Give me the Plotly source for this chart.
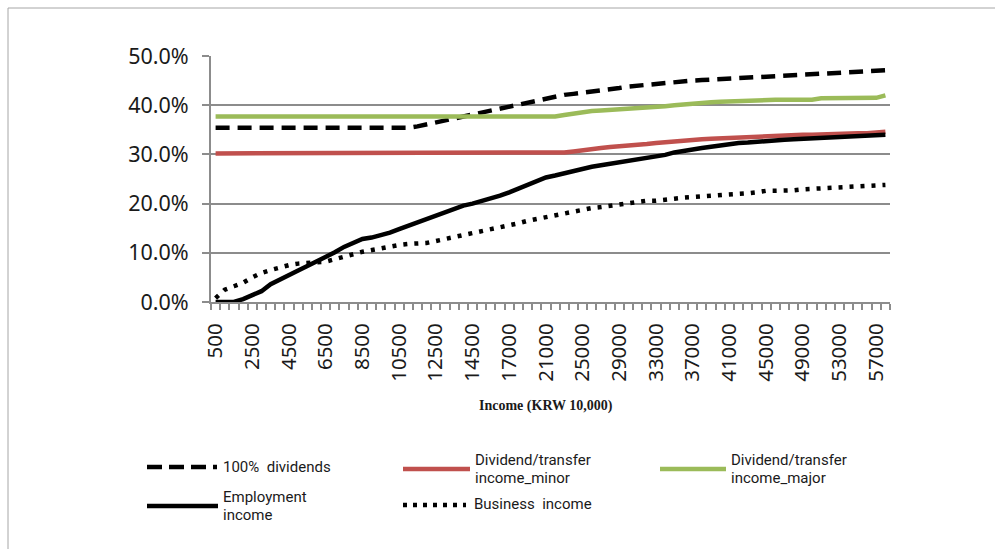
import plotly.graph_objects as go

# Income brackets (KRW 10,000)
categories = ([500 * k for k in range(1, 30)] + [15000, 15500, 16000]
              + [1000 * k for k in range(17, 59)])
tick_labels = [str(c) for c in categories]

# Effective tax rate by income type (%)
dividends_100 = [
    35.4, 35.4, 35.4, 35.4, 35.4, 35.4, 35.4, 35.4, 35.4, 35.4,
    35.4, 35.4, 35.4, 35.4, 35.4, 35.4, 35.4, 35.4, 35.4, 35.4,
    35.4, 35.4, 35.7, 36.1, 36.4, 36.8, 37.2, 37.6, 38.0, 38.5,
    38.9, 39.4, 39.8, 40.2, 40.6, 41.0, 41.4, 41.8, 42.1, 42.3,
    42.5, 42.7, 42.9, 43.2, 43.5, 43.8, 44.0, 44.2, 44.4, 44.5,
    44.7, 44.8, 45.0, 45.1, 45.2, 45.4, 45.5, 45.6, 45.7, 45.8,
    45.8, 46.0, 46.1, 46.3, 46.4, 46.5, 46.5, 46.6, 46.7, 46.8,
    46.9, 47.0, 47.1, 47.1,
]
transfer_minor = [
    30.2, 30.2, 30.2, 30.2, 30.2, 30.2, 30.2, 30.2, 30.2, 30.2,
    30.2, 30.2, 30.2, 30.2, 30.2, 30.2, 30.2, 30.2, 30.2, 30.2,
    30.2, 30.2, 30.2, 30.2, 30.2, 30.2, 30.2, 30.2, 30.2, 30.2,
    30.2, 30.2, 30.2, 30.2, 30.2, 30.2, 30.2, 30.2, 30.4, 30.6,
    30.9, 31.2, 31.3, 31.5, 31.6, 31.8, 31.9, 32.1, 32.3, 32.5,
    32.6, 32.8, 33.0, 33.1, 33.2, 33.3, 33.4, 33.4, 33.5, 33.6,
    33.6, 33.7, 33.8, 33.9, 34.0, 34.0, 34.1, 34.2, 34.2, 34.3,
    34.3, 34.3, 34.4, 34.6,
]
transfer_major = [
    37.7, 37.7, 37.7, 37.7, 37.7, 37.7, 37.7, 37.7, 37.7, 37.7,
    37.7, 37.7, 37.7, 37.7, 37.7, 37.7, 37.7, 37.7, 37.7, 37.7,
    37.7, 37.7, 37.7, 37.7, 37.7, 37.7, 37.7, 37.7, 37.7, 37.7,
    37.7, 37.7, 37.7, 37.7, 37.7, 37.7, 37.7, 37.7, 38.0, 38.3,
    38.5, 38.8, 38.9, 39.0, 39.1, 39.3, 39.4, 39.5, 39.6, 39.8,
    40.0, 40.2, 40.3, 40.5, 40.6, 40.7, 40.8, 40.9, 41.0, 41.0,
    41.1, 41.1, 41.1, 41.1, 41.1, 41.1, 41.4, 41.4, 41.4, 41.4,
    41.4, 41.4, 41.5, 42.0,
]
employment = [
    0.0, 0.0, 0.0, 0.6, 1.4, 2.2, 3.6, 4.6, 5.5, 6.4,
    7.3, 8.2, 9.2, 10.1, 11.2, 12.1, 12.8, 13.1, 13.5, 14.1,
    14.8, 15.5, 16.2, 16.9, 17.6, 18.4, 19.1, 19.6, 20.0, 20.5,
    21.1, 21.6, 22.3, 23.0, 23.8, 24.6, 25.3, 25.7, 26.2, 26.7,
    27.1, 27.5, 27.8, 28.1, 28.3, 28.5, 28.9, 29.2, 29.5, 29.9,
    30.4, 30.8, 31.0, 31.3, 31.6, 31.8, 32.0, 32.3, 32.4, 32.6,
    32.8, 32.9, 33.0, 33.1, 33.2, 33.3, 33.3, 33.4, 33.5, 33.5,
    33.7, 33.8, 33.9, 34.0,
]
business = [
    0.8, 2.5, 3.2, 3.9, 5.0, 5.9, 6.5, 7.1, 7.5, 7.8,
    7.9, 8.0, 8.2, 8.7, 9.3, 9.7, 10.2, 10.6, 11.0, 11.3,
    11.6, 11.8, 11.9, 12.0, 12.4, 12.8, 13.1, 13.5, 13.9, 14.2,
    14.6, 15.0, 15.5, 16.0, 16.5, 16.9, 17.3, 17.6, 18.0, 18.4,
    18.8, 19.1, 19.3, 19.6, 19.8, 20.1, 20.3, 20.6, 20.6, 20.7,
    21.0, 21.2, 21.3, 21.4, 21.5, 21.7, 21.8, 22.0, 22.1, 22.3,
    22.6, 22.6, 22.6, 22.7, 22.9, 23.0, 23.0, 23.2, 23.3, 23.3,
    23.5, 23.6, 23.7, 23.8,
]

RED = "#C0504D"
GREEN = "#9BBB59"
GRID = "#8c8c8c"

xpos = list(range(len(categories)))
label_idx = xpos[::4]

# name, values, colour, plot dash, legend dash, width
series = [
    ("100% dividends", dividends_100, "black", "14px,8px", "15px,7px", 4.5),
    ("Dividend/transfer income_minor", transfer_minor, RED, "solid", "solid", 4.5),
    ("Dividend/transfer income_major", transfer_major, GREEN, "solid", "solid", 4.5),
    ("Employment income", employment, "black", "solid", "solid", 4.5),
    ("Business income", business, "black", "4px,7px", "4px,6px", 4.5),
]

fig = go.Figure()
for name, vals, color, dash, _, w in series:
    fig.add_trace(go.Scatter(
        x=xpos, y=vals, mode="lines", name=name,
        line=dict(color=color, width=w, dash=dash),
        showlegend=False,
    ))

# plot-area geometry (pixels)
W, H = 995, 549
PL, PR, PT, PB = 211, 890, 56, 302


def fx(px):
    return (px - PL) / (PR - PL)


def fy(py):
    return (PB - py) / (PB - PT)


fig.update_layout(
    width=W, height=H,
    margin=dict(l=PL, r=W - PR, t=PT, b=H - PB),
    paper_bgcolor="white", plot_bgcolor="white",
    font=dict(family="Noto Sans", color="#1a1a1a"),
    xaxis=dict(
        range=[-0.5, len(categories) - 0.5],
        tickmode="array", tickvals=label_idx,
        ticktext=[tick_labels[i] for i in label_idx],
        tickangle=-90, tickfont=dict(size=20.5, family="Noto Sans", color="#1a1a1a"),
        ticks="", ticklabelstandoff=11,
        showgrid=False, zeroline=False,
        showline=True, linecolor=GRID, linewidth=2,
        minor=dict(tickmode="linear", tick0=0.5, dtick=1, ticks="outside",
                   ticklen=6, tickwidth=1.5, tickcolor=GRID, showgrid=False),
    ),
    yaxis=dict(
        range=[0, 50], tickmode="linear", tick0=0, dtick=10,
        tickformat=".1f", ticksuffix="%",
        tickfont=dict(size=21.5, family="Noto Sans", color="#1a1a1a"),
        ticks="outside", ticklen=7, tickwidth=1.5, tickcolor=GRID,
        ticklabelstandoff=9,
        showgrid=True, gridcolor=GRID, gridwidth=1.5,
        zeroline=False, showline=True, linecolor=GRID, linewidth=2,
    ),
)

shapes = []
annotations = []

# chart-area border (top and left edges)
shapes.append(dict(type="line", xref="paper", yref="paper",
                   x0=fx(8), x1=fx(995), y0=fy(8), y1=fy(8),
                   line=dict(color="#a6a6a6", width=1)))
shapes.append(dict(type="line", xref="paper", yref="paper",
                   x0=fx(8), x1=fx(8), y0=fy(8), y1=fy(549),
                   line=dict(color="#a6a6a6", width=1)))

# x-axis title
annotations.append(dict(
    text="<b>Income (KRW 10,000)</b>", xref="paper", yref="paper",
    x=fx(546), y=fy(406), showarrow=False, xanchor="center", yanchor="middle",
    font=dict(family="Liberation Serif", size=14, color="#1a1a1a"),
))

# legend: (swatch start, swatch end, swatch y, text x, text line centres, lines, series index)
legend_items = [
    (147, 217, 467, 222, [467], ["100%  dividends"], 0),
    (403, 470, 469, 474, [460, 478], ["Dividend/transfer", "income_minor"], 1),
    (660, 726, 469, 730, [460, 478], ["Dividend/transfer", "income_major"], 2),
    (147, 218, 506, 222, [497, 515], ["Employment", "income"], 3),
    (403, 466, 505, 473, [504], ["Business  income"], 4),
]
for x0, x1, sy, tx, tys, lines, k in legend_items:
    _, _, color, _, ldash, w = series[k]
    shapes.append(dict(type="line", xref="paper", yref="paper",
                       x0=fx(x0), x1=fx(x1), y0=fy(sy), y1=fy(sy),
                       line=dict(color=color, width=w, dash=ldash)))
    for ty, line in zip(tys, lines):
        annotations.append(dict(
            text=line, xref="paper", yref="paper", x=fx(tx), y=fy(ty),
            showarrow=False, xanchor="left", yanchor="middle", align="left",
            borderpad=0,
            font=dict(family="Roboto", size=15, color="#1a1a1a"),
        ))

fig.update_layout(shapes=shapes, annotations=annotations)

fig.write_html("out.html")
